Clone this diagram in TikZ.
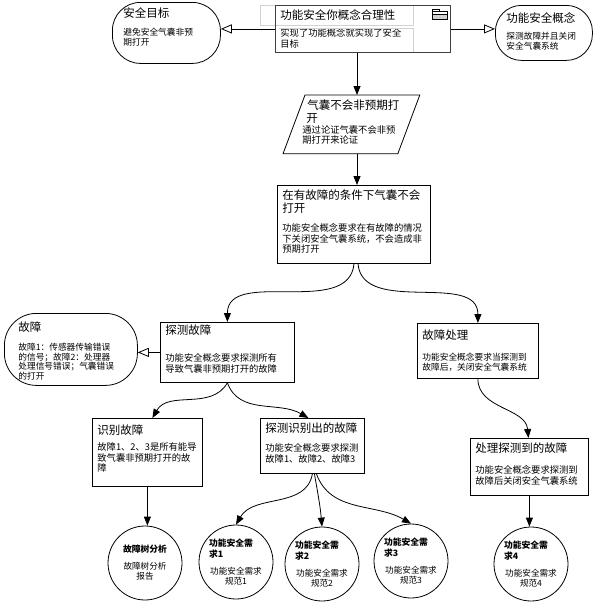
\documentclass[tikz,border=0pt]{standalone}
\usepackage{fontspec}
\setmainfont{Noto Sans CJK SC}
\usetikzlibrary{arrows.meta, positioning, calc}

\newcommand{\boxtitle}{\fontsize{11.5}{13.5}\selectfont}
\newcommand{\boxbody}{\fontsize{9.3}{10.5}\selectfont}
\newcommand{\smallbody}{\fontsize{8.7}{9.8}\selectfont}
\newcommand{\circtitle}{\bfseries\fontsize{8.8}{11.5}\selectfont}
\newcommand{\circbody}{\mdseries\fontsize{8.6}{10.5}\selectfont}
% width, height, top pad, gap, title, text
\newcommand{\panel}[6]{\parbox[c][#2][t]{#1}{\raggedright\vspace*{#3}{\boxtitle #5\par}\vspace{#4}{\boxbody #6\par}}}
\newcommand{\reqtext}[3]{\parbox{54pt}{#1{\circtitle #2\par}\vspace{6pt}\centering{\circbody #3\par}}}

\begin{document}
\begin{tikzpicture}[
    x=1pt, y=-1pt,
    line width=0.8pt,
    >={Triangle[length=9pt,width=7pt]},
    box/.style={draw, rectangle, anchor=north west, inner xsep=5pt, inner ysep=0pt},
    term/.style={box, rounded corners=#1},
    req/.style={draw, circle, minimum size=74pt, inner sep=0pt},
    flow/.style={->},
    assoc/.style={-{Triangle[open,length=11pt,width=9pt]}},
    ghost/.style={draw=gray!35, line width=0.6pt}
  ]
  \useasboundingbox (0,0) rectangle (598,608);

  % top row
  \draw[ghost] (260,5) rectangle (413,25);
  \node[box, draw=black!75] (fsc) at (275,5)
    {\panel{165pt}{47pt}{4.3pt}{6.6pt}{功能安全你概念合理性}{实现了功能概念就实现了安全\\目标}};
  \draw[ghost] (279,28) -- (413,28) -- (413,52);
  \draw[line width=0.6pt, fill=gray!35] (432,14.5) rectangle (447,19);
  \draw[line width=0.6pt] (432,14.5) -- (432,11) -- (447,11) -- (447,14.5);
  \draw[line width=0.6pt] (432,11) -- (432,9) -- (439,9) -- (439,11);

  \node[term=28pt, inner xsep=11pt] (goal) at (112,2)
    {\panel{86pt}{61pt}{5.3pt}{8.6pt}{安全目标}{\smallbody 避免安全气囊非预\\期打开\par}};
  \node[term=26pt, inner xsep=11pt] (concept) at (495,5)
    {\panel{75pt}{55pt}{7.3pt}{7.6pt}{功能安全概念}{\smallbody 探测故障并且关闭\\安全气囊系统\par}};

  \draw[assoc] (fsc.west) -- (fsc.west -| goal.east);
  \draw[assoc] (fsc.east) -- (fsc.east -| concept.west);

  % argument chain
  \coordinate (axis) at (357,0);
  \node[box, draw=none, inner xsep=8pt] (para) at (294,95)
    {\panel{98pt}{58pt}{4.3pt}{0pt}{\hspace*{5pt}气囊不会非预期打\\\hspace*{4pt}开}{通过论证气囊不会非预\\期打开来论证}};
  \draw ($(para.north west)+(11,0)$) -- ($(para.north east)+(11,0)$)
    -- ($(para.south east)+(-11,0)$) -- ($(para.south west)+(-11,0)$) -- cycle;
  \node[box] (cond) at (277,185)
    {\panel{143pt}{78pt}{4.3pt}{8.1pt}{在有故障的条件下气囊不会\\打开}{功能安全概念要求在有故障的情况\\下关闭安全气囊系统，不会造成非\\预期打开}};

  \draw[flow] (axis |- fsc.south) -- (axis |- para.north);
  \draw[flow] (axis |- para.south) -- (axis |- cond.north);

  % second level
  \node[box] (detect) at (160,322)
    {\panel{124pt}{60pt}{2.3pt}{16.6pt}{探测故障}{功能安全概念要求探测所有\\导致气囊非预期打开的故障}};
  \node[term=32pt, inner xsep=14pt] (fault) at (4,313)
    {\panel{105pt}{72pt}{8.3pt}{9.1pt}{故障}{\smallbody 故障1：传感器传输错误\\的信号；故障2：处理器\\处理信号错误；气囊错误\\的打开\par}};
  \node[box] (handle) at (417,323)
    {\panel{111pt}{55pt}{6.3pt}{11.6pt}{故障处理}{\smallbody 功能安全概念要求当探测到\\故障后，关闭安全气囊系统\par}};

  \draw[flow] ([xshift=-3pt]axis |- cond.south) to[out=-95,in=90] (detect.north);
  \draw[flow] ([xshift=1pt]axis |- cond.south) to[out=-85,in=90] (handle.north);
  \draw[assoc] (detect.west) -- (detect.west -| fault.east);

  % third level
  \node[box] (identify) at (92,418)
    {\panel{100pt}{68pt}{6.3pt}{5.6pt}{识别故障}{故障1、2、3是所有能导\\致气囊非预期打开的故\\障}};
  \node[box] (detected) at (260,418)
    {\panel{94pt}{55pt}{4.3pt}{8.6pt}{探测识别出的故障}{功能安全概念要求探测\\故障1、故障2、故障3}};
  \node[box] (handled) at (470,438)
    {\panel{108pt}{57pt}{4.3pt}{10.6pt}{处理探测到的故障}{功能安全概念要求探测到\\故障后关闭安全气囊系统}};

  \draw[flow] (detect.south) to[out=-120,in=60] ([xshift=5pt]identify.north);
  \draw[flow] (detect.south) to[out=-70,in=150] ([xshift=-4pt]detected.north);
  \draw[flow] (handle.south) to[out=-90,in=95] ([xshift=-1pt]handled.north);

  % requirements
  \node[req] (fta) at (145,563) {\reqtext{\centering}{故障树分析}{故障树分析\\报告}};
  \node[req] (req1) at (236,562) {\reqtext{\raggedright}{功能安全需\\求1}{功能安全需求\\规范1}};
  \node[req] (req2) at (322,564) {\reqtext{\raggedright}{功能安全需\\求2}{功能安全需求\\规范2}};
  \node[req] (req3) at (411,561) {\reqtext{\raggedright}{功能安全需\\求3}{功能安全需求\\规范3}};
  \node[req] (req4) at (531,564) {\reqtext{\raggedright}{功能安全需\\求4}{功能安全需求\\规范4}};

  \draw[flow] (identify.south) -- (identify.south |- fta.north);
  \draw[flow] (detected.south) to[out=-100,in=60] (req1.north);
  \draw[flow] ([xshift=2pt]detected.south) to[out=-80,in=95] (req2.north);
  \draw[flow] ([xshift=4pt]detected.south) to[out=-70,in=150] (req3.north);
  \draw[flow] (handled.south) -- (handled.south |- req4.north);
\end{tikzpicture}
\end{document}
